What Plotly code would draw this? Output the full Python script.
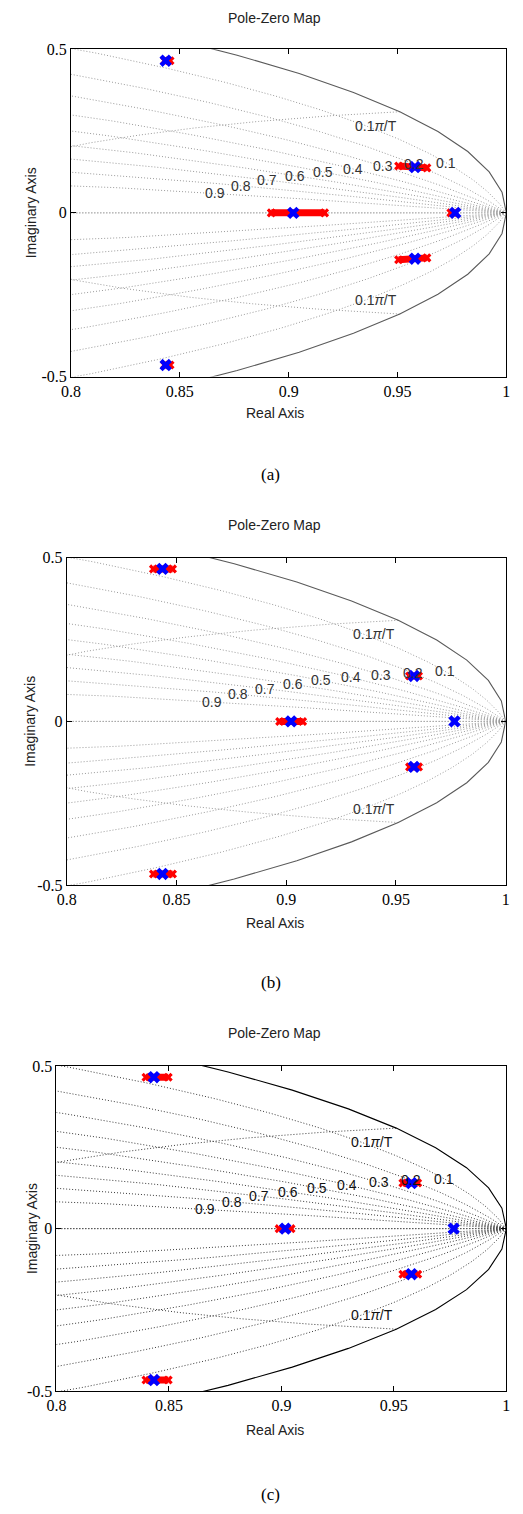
import numpy as np
import plotly.graph_objects as go

W, H = 523, 1514

# ---------------- data ----------------
zeta_values = [0.1, 0.2, 0.3, 0.4, 0.5, 0.6, 0.7, 0.8, 0.9, 1.0]
zeta_labels = ["0.1", "0.2", "0.3", "0.4", "0.5", "0.6", "0.7", "0.8", "0.9"]
wn_values = [0.1, 0.2, 0.3, 0.4, 0.5, 0.6, 0.7, 0.8, 0.9, 1.0]   # x pi/T
wn_labels = ["0.1", "0.2", "0.3", "0.4", "0.5", "0.6", "0.7", "0.8", "0.9", "1"]

x_ticks = [0.8, 0.85, 0.9, 0.95, 1.0]
x_tick_text = ["0.8", "0.85", "0.9", "0.95", "1"]
y_ticks = [-0.5, 0.0, 0.5]
y_tick_text = ["-0.5", "0", "0.5"]

captions = ["(a)", "(b)", "(c)"]

# blue poles (real, imag)
a_blue_re = [0.8435, 0.8435, 0.9021, 0.9580, 0.9580, 0.9765]
a_blue_im = [0.465, -0.465, 0.0, 0.140, -0.140, 0.0]
b_blue_re = [0.8436, 0.8436, 0.9022, 0.9582, 0.9582, 0.9767]
b_blue_im = [0.466, -0.466, 0.0, 0.139, -0.139, 0.0]
c_blue_re = [0.8433, 0.8433, 0.9017, 0.9578, 0.9578, 0.9766]
c_blue_im = [0.4655, -0.4655, 0.0, 0.140, -0.140, 0.0]

# red pole spreads (start / end points of each streak)
a_red_re0 = [0.8430, 0.8430, 0.8920, 0.9505, 0.9505, 0.9745]
a_red_re1 = [0.8455, 0.8455, 0.9165, 0.9635, 0.9635, 0.9760]
a_red_im0 = [0.465, -0.465, 0.0, 0.1435, -0.1435, 0.0]
a_red_im1 = [0.465, -0.465, 0.0, 0.1375, -0.1375, 0.0]

b_red_re0 = [0.8395, 0.8395, 0.8970, 0.9562, 0.9562]
b_red_re1 = [0.8482, 0.8482, 0.9075, 0.9603, 0.9603]
b_red_im0 = [0.466, -0.466, 0.0, 0.139, -0.139]
b_red_im1 = [0.466, -0.466, 0.0, 0.139, -0.139]

c_red_re0 = [0.8398, 0.8398, 0.8990, 0.9540, 0.9540]
c_red_re1 = [0.8497, 0.8497, 0.9043, 0.9606, 0.9606]
c_red_im0 = [0.4655, -0.4655, 0.0, 0.140, -0.140]
c_red_im1 = [0.4655, -0.4655, 0.0, 0.140, -0.140]

# ---------------- layout (pixel boxes) ----------------
panels = [
    dict(left=62.7, right=510.0, top=41.7, bottom=372.7, title_y=10, xlab_y=410, cap_y=472, ylab_x=21,
         grid="#9a9a9a", circ="#5a5a5a", txt="#333333",
         blue=(a_blue_re, a_blue_im), red=(a_red_re0, a_red_re1, a_red_im0, a_red_im1)),
    dict(left=58.3, right=509.3, top=556.0, bottom=887.0, title_y=523, xlab_y=925, cap_y=986, ylab_x=21,
         grid="#9a9a9a", circ="#5a5a5a", txt="#333333",
         blue=(b_blue_re, b_blue_im), red=(b_red_re0, b_red_re1, b_red_im0, b_red_im1)),
    dict(left=47.7, right=510.0, top=1070.0, bottom=1399.0, title_y=1037, xlab_y=1438, cap_y=1503, ylab_x=22,
         grid="#3a3a3a", circ="#000000", txt="#111111",
         blue=(c_blue_re, c_blue_im), red=(c_red_re0, c_red_re1, c_red_im0, c_red_im1)),
]

def px(x):
    return x / W

def py(y):
    return 1 - y / H

fig = go.Figure()
annotations = []
sans = "Liberation Sans, Arial, sans-serif"
serif = "Liberation Serif, Times New Roman, serif"

w = np.linspace(0, np.pi, 600)
zl = np.linspace(0, 1, 300)
theta = np.linspace(0, 2 * np.pi, 101)

for i, p in enumerate(panels):
    n = "" if i == 0 else str(i + 1)
    xa, ya = "x" + n, "y" + n

    # damping-ratio spirals
    gx, gy = [], []
    for z in zeta_values:
        s = np.exp(-z * w + 1j * w * np.sqrt(max(1 - z ** 2, 0)))
        gx += list(s.real) + [None] + list(s.real) + [None]
        gy += list(s.imag) + [None] + list(-s.imag) + [None]
    # natural-frequency curves
    for wn in wn_values:
        s = np.exp(-zl * wn * np.pi + 1j * wn * np.pi * np.sqrt(1 - zl ** 2))
        gx += list(s.real) + [None] + list(s.real) + [None]
        gy += list(s.imag) + [None] + list(-s.imag) + [None]
    fig.add_trace(go.Scatter(x=gx, y=gy, mode="lines", xaxis=xa, yaxis=ya,
                             line=dict(color=p["grid"], width=1, dash="1px,2px"),
                             hoverinfo="skip", showlegend=False))
    # unit circle
    fig.add_trace(go.Scatter(x=np.cos(theta), y=np.sin(theta), mode="lines", xaxis=xa, yaxis=ya,
                             line=dict(color=p["circ"], width=1.1), hoverinfo="skip", showlegend=False))

    # red streaks
    r0, r1, i0, i1 = p["red"]
    rx, ry = [], []
    for k in range(len(r0)):
        rx += [r0[k], r1[k], None]
        ry += [i0[k], i1[k], None]
    fig.add_trace(go.Scatter(x=rx, y=ry, mode="lines+markers", xaxis=xa, yaxis=ya,
                             line=dict(color="#ff0000", width=7),
                             marker=dict(symbol="x", size=8, color="#ff0000", line=dict(width=0)),
                             hoverinfo="skip", showlegend=False))
    # blue poles
    bx, by = p["blue"]
    fig.add_trace(go.Scatter(x=bx, y=by, mode="markers", xaxis=xa, yaxis=ya,
                             marker=dict(symbol="x", size=11, color="#0000ff", line=dict(width=0)),
                             hoverinfo="skip", showlegend=False))

    axis_common = dict(showgrid=False, zeroline=False, showline=True, linecolor="#000000", linewidth=1,
                       mirror="ticks", ticks="inside", ticklen=5, tickcolor="#000000",
                       tickfont=dict(family=serif, size=16, color="#000000"))
    fig.layout["xaxis" + n] = dict(domain=[px(p["left"]), px(p["right"])], range=[0.8, 1.0],
                                   anchor=ya, tickmode="array", tickvals=x_ticks, ticktext=x_tick_text,
                                   **axis_common)
    fig.layout["yaxis" + n] = dict(domain=[py(p["bottom"]), py(p["top"])], range=[-0.5, 0.5],
                                   anchor=xa, tickmode="array", tickvals=y_ticks, ticktext=y_tick_text,
                                   **axis_common)

    # zeta labels (placed on each spiral at wn*T = 0.05*pi)
    lw = 0.05 * np.pi
    for z, lab in zip(zeta_values, zeta_labels):
        s = np.exp(-z * lw + 1j * lw * np.sqrt(1 - z ** 2))
        annotations.append(dict(x=s.real, y=s.imag, xref=xa, yref=ya, text=lab, showarrow=False,
                                xanchor="center", yanchor="middle",
                                font=dict(family=sans, size=14, color=p["txt"])))
    # wn labels at the unit circle end (only those inside the view)
    for wn, lab in zip(wn_values, wn_labels):
        cx, cy = np.cos(wn * np.pi), np.sin(wn * np.pi)
        if 0.8 <= cx <= 1.0 and cy <= 0.5:
            annotations.append(dict(x=cx, y=cy, xref=xa, yref=ya, text=lab + "<i>π</i>/T", showarrow=False,
                                    xanchor="right", yanchor="top", xshift=-1, yshift=-4,
                                    font=dict(family=sans, size=14, color=p["txt"])))
            annotations.append(dict(x=cx, y=-cy, xref=xa, yref=ya, text=lab + "<i>π</i>/T", showarrow=False,
                                    xanchor="right", yanchor="bottom", xshift=-1, yshift=4,
                                    font=dict(family=sans, size=14, color=p["txt"])))

    # titles & axis labels
    mid = dict(xref="paper", yref="paper", showarrow=False, xanchor="center", yanchor="middle")
    annotations.append(dict(x=px(272), y=py(p["title_y"]), text="Pole-Zero Map",
                            font=dict(family=sans, size=14, color="#222222"), **mid))
    annotations.append(dict(x=px(272), y=py(p["xlab_y"]), text="Real Axis",
                            font=dict(family=sans, size=14, color="#222222"), **mid))
    annotations.append(dict(x=px(p["ylab_x"]), y=py((p["top"] + p["bottom"]) / 2),
                            text="Imaginary Axis", textangle=-90,
                            font=dict(family=sans, size=14, color="#222222"), **mid))
    annotations.append(dict(x=px(268), y=py(p["cap_y"]), text=captions[i],
                            font=dict(family=serif, size=17, color="#000000"), **mid))

fig.update_layout(width=W, height=H, autosize=False, margin=dict(l=0, r=0, t=0, b=0),
                  paper_bgcolor="#ffffff", plot_bgcolor="#ffffff", showlegend=False,
                  annotations=annotations)

fig.write_html("out.html", config={"displayModeBar": False, "staticPlot": True},
               post_script="document.body.style.margin='0';document.body.style.padding='0';"
                           "document.documentElement.style.overflow='hidden';")
